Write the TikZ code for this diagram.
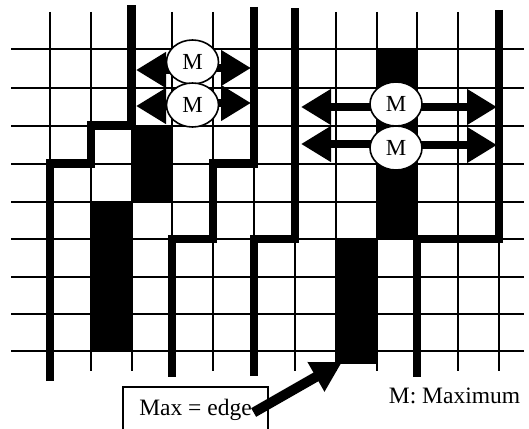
\documentclass[tikz,border=0pt]{standalone}
\usepackage{fontspec}
\setmainfont{Liberation Serif}
\usetikzlibrary{arrows.meta,shapes.geometric}
\begin{document}
\begin{tikzpicture}[x=1pt,y=-1pt,
  gridline/.style={line width=2pt},
  wall/.style={line width=8.5pt},
  blk/.style={fill=black},
  mnode/.style={ellipse,draw,line width=1.6pt,fill=white,minimum width=52pt,minimum height=44pt,inner sep=0pt,font=\fontsize{23}{26}\selectfont},
  harrow/.style={line width=8pt,-{Triangle[length=30pt,width=34pt]}},
  pointer/.style={line width=10pt,-{Triangle[length=30pt,width=32pt]}},
  lbl/.style={font=\fontsize{23.5}{26}\selectfont}]
\useasboundingbox (0,0) rectangle (529,428);
\clip (0,0) rectangle (529,428);
% grid
\foreach \y in {49.5,87.5,125.5,163.5,201.5,239,276.5,313.5,351}
  \draw[gridline] (11,\y) -- (524,\y);
\foreach \x in {50,91,131.5,172,213,254,295,336,376.5,417,458,499}
  \draw[gridline] (\x,12) -- (\x,371);
% black cells
\fill[blk] (131.5,125.5) rectangle (172,201.5);
\fill[blk] (91,201.5) rectangle (131.5,351);
\fill[blk] (376.5,49.5) rectangle (417,239);
\fill[blk] (336,239) rectangle (376.5,364);
% thick walls
\draw[wall] (50,381) -- (50,163.5) -- (91,163.5) -- (91,125.5) -- (131.5,125.5) -- (131.5,5);
\draw[wall] (254,7) -- (254,163.5) -- (213,163.5) -- (213,239) -- (172,239) -- (172,377);
\draw[wall] (254,376) -- (254,239) -- (295,239) -- (295,8);
\draw[wall] (499,10) -- (499,239) -- (417,239) -- (417,377);
% arrow tips
\coordinate (tL1l) at (136,70);
\coordinate (tL1r) at (251,68);
\coordinate (tL2l) at (136,106);
\coordinate (tL2r) at (251,103);
\coordinate (tR1l) at (301,107);
\coordinate (tR1r) at (497,107);
\coordinate (tR2l) at (301,144);
\coordinate (tR2r) at (497,145);
\coordinate (corner) at (342,362);
% circle positions
\coordinate (pL1) at (192.5,62);
\coordinate (pL2) at (192.5,105);
\coordinate (pR1) at (396,104);
\coordinate (pR2) at (396,148);
% arrows
\draw[harrow] (pL1 |- tL1l) -- (tL1l);
\draw[harrow] (pL1 |- tL1r) -- (tL1r);
\draw[harrow] (pL2 |- tL2l) -- (tL2l);
\draw[harrow] (pL2 |- tL2r) -- (tL2r);
\draw[harrow] (pR1 |- tR1l) -- (tR1l);
\draw[harrow] (pR1 |- tR1r) -- (tR1r);
\draw[harrow] (pR2 |- tR2l) -- (tR2l);
\draw[harrow] (pR2 |- tR2r) -- (tR2r);
% circles
\node[mnode] (mL1) at (pL1) {M};
\node[mnode] (mL2) at (pL2) {M};
\node[mnode] (mR1) at (pR1) {M};
\node[mnode] (mR2) at (pR2) {M};
% legend box and pointer
\node[draw,line width=1.3pt,fill=white,minimum width=145pt,minimum height=45pt,inner sep=0pt,lbl] (box) at (195.5,409.5) {Max = edge};
\draw[pointer] ([xshift=-15pt,yshift=-3pt]box.east) -- (corner);
\node[lbl,anchor=base] (legend) at (454.5,403) {M: Maximum};
\end{tikzpicture}
\end{document}
